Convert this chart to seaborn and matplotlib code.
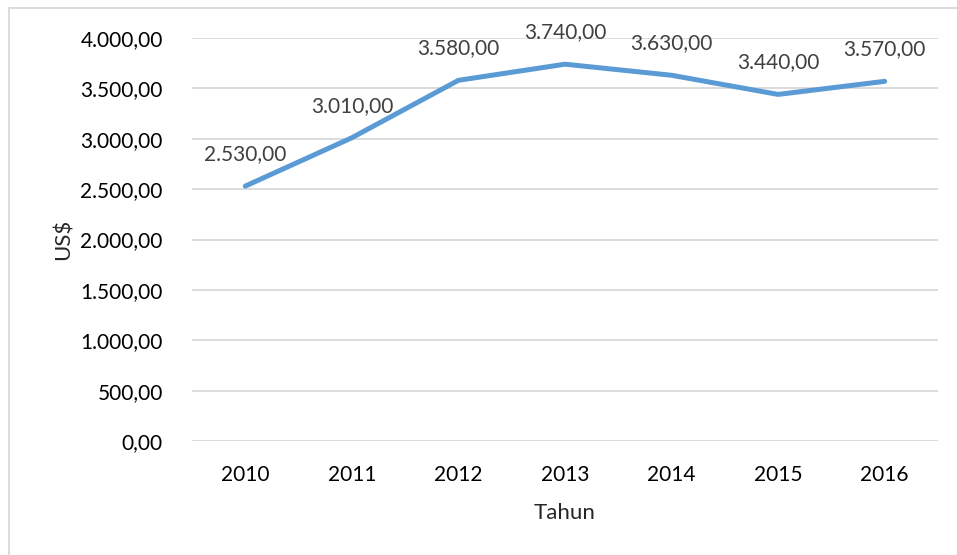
import pandas as pd
import matplotlib.pyplot as plt
import matplotlib.patches as patches
import seaborn as sns

# Data
tahun = ['2010', '2011', '2012', '2013', '2014', '2015', '2016']
nilai = [2530, 3010, 3580, 3740, 3630, 3440, 3570]
y_ticks = [0, 500, 1000, 1500, 2000, 2500, 3000, 3500, 4000]

df = pd.DataFrame({'Tahun': tahun, 'US$': nilai})

sns.set_style('white')
plt.rcParams['font.family'] = ['Lato', 'DejaVu Sans']


def fmt(v):
    # format Indonesia: titik untuk ribuan, koma untuk desimal
    s = f'{v:,.2f}'
    return s.replace(',', 'X').replace('.', ',').replace('X', '.')


fig = plt.figure(figsize=(9.57, 5.55), dpi=100)
ax = fig.add_axes([192 / 957, 1 - 441 / 555, (938 - 192) / 957, (441 - 38) / 555])

sns.lineplot(data=df, x='Tahun', y='US$', ax=ax, color='#5B9BD5', linewidth=3.6,
             solid_capstyle='round', sort=False)

for i, v in enumerate(nilai):
    ax.annotate(fmt(v), (i, v), xytext=(0, 23), textcoords='offset points',
                ha='center', va='center', fontsize=15, color='#404040')

ax.set_ylim(0, 4000)
ax.set_xlim(-0.5, len(tahun) - 0.5)
ax.set_yticks(y_ticks)
ax.set_yticklabels([fmt(v) for v in y_ticks])
ax.grid(axis='y', color='#D9D9D9', linewidth=1.3)
ax.set_axisbelow(True)
for s in ax.spines.values():
    s.set_visible(False)
ax.tick_params(axis='both', length=0, labelsize=15, colors='#000000')
ax.tick_params(axis='y', pad=21)
ax.tick_params(axis='x', pad=17)

ax.set_xlabel('Tahun', fontsize=16, labelpad=13)
ax.set_ylabel('US$', fontsize=16, labelpad=5)

# bingkai tipis di sekeliling grafik
fig.patches.append(patches.Rectangle((9 / 957, -0.1), 1.1, 1.1 - 8 / 555,
                                     transform=fig.transFigure, fill=False,
                                     edgecolor='#D9D9D9', linewidth=1.3))

fig.savefig('out.png', dpi=100)
